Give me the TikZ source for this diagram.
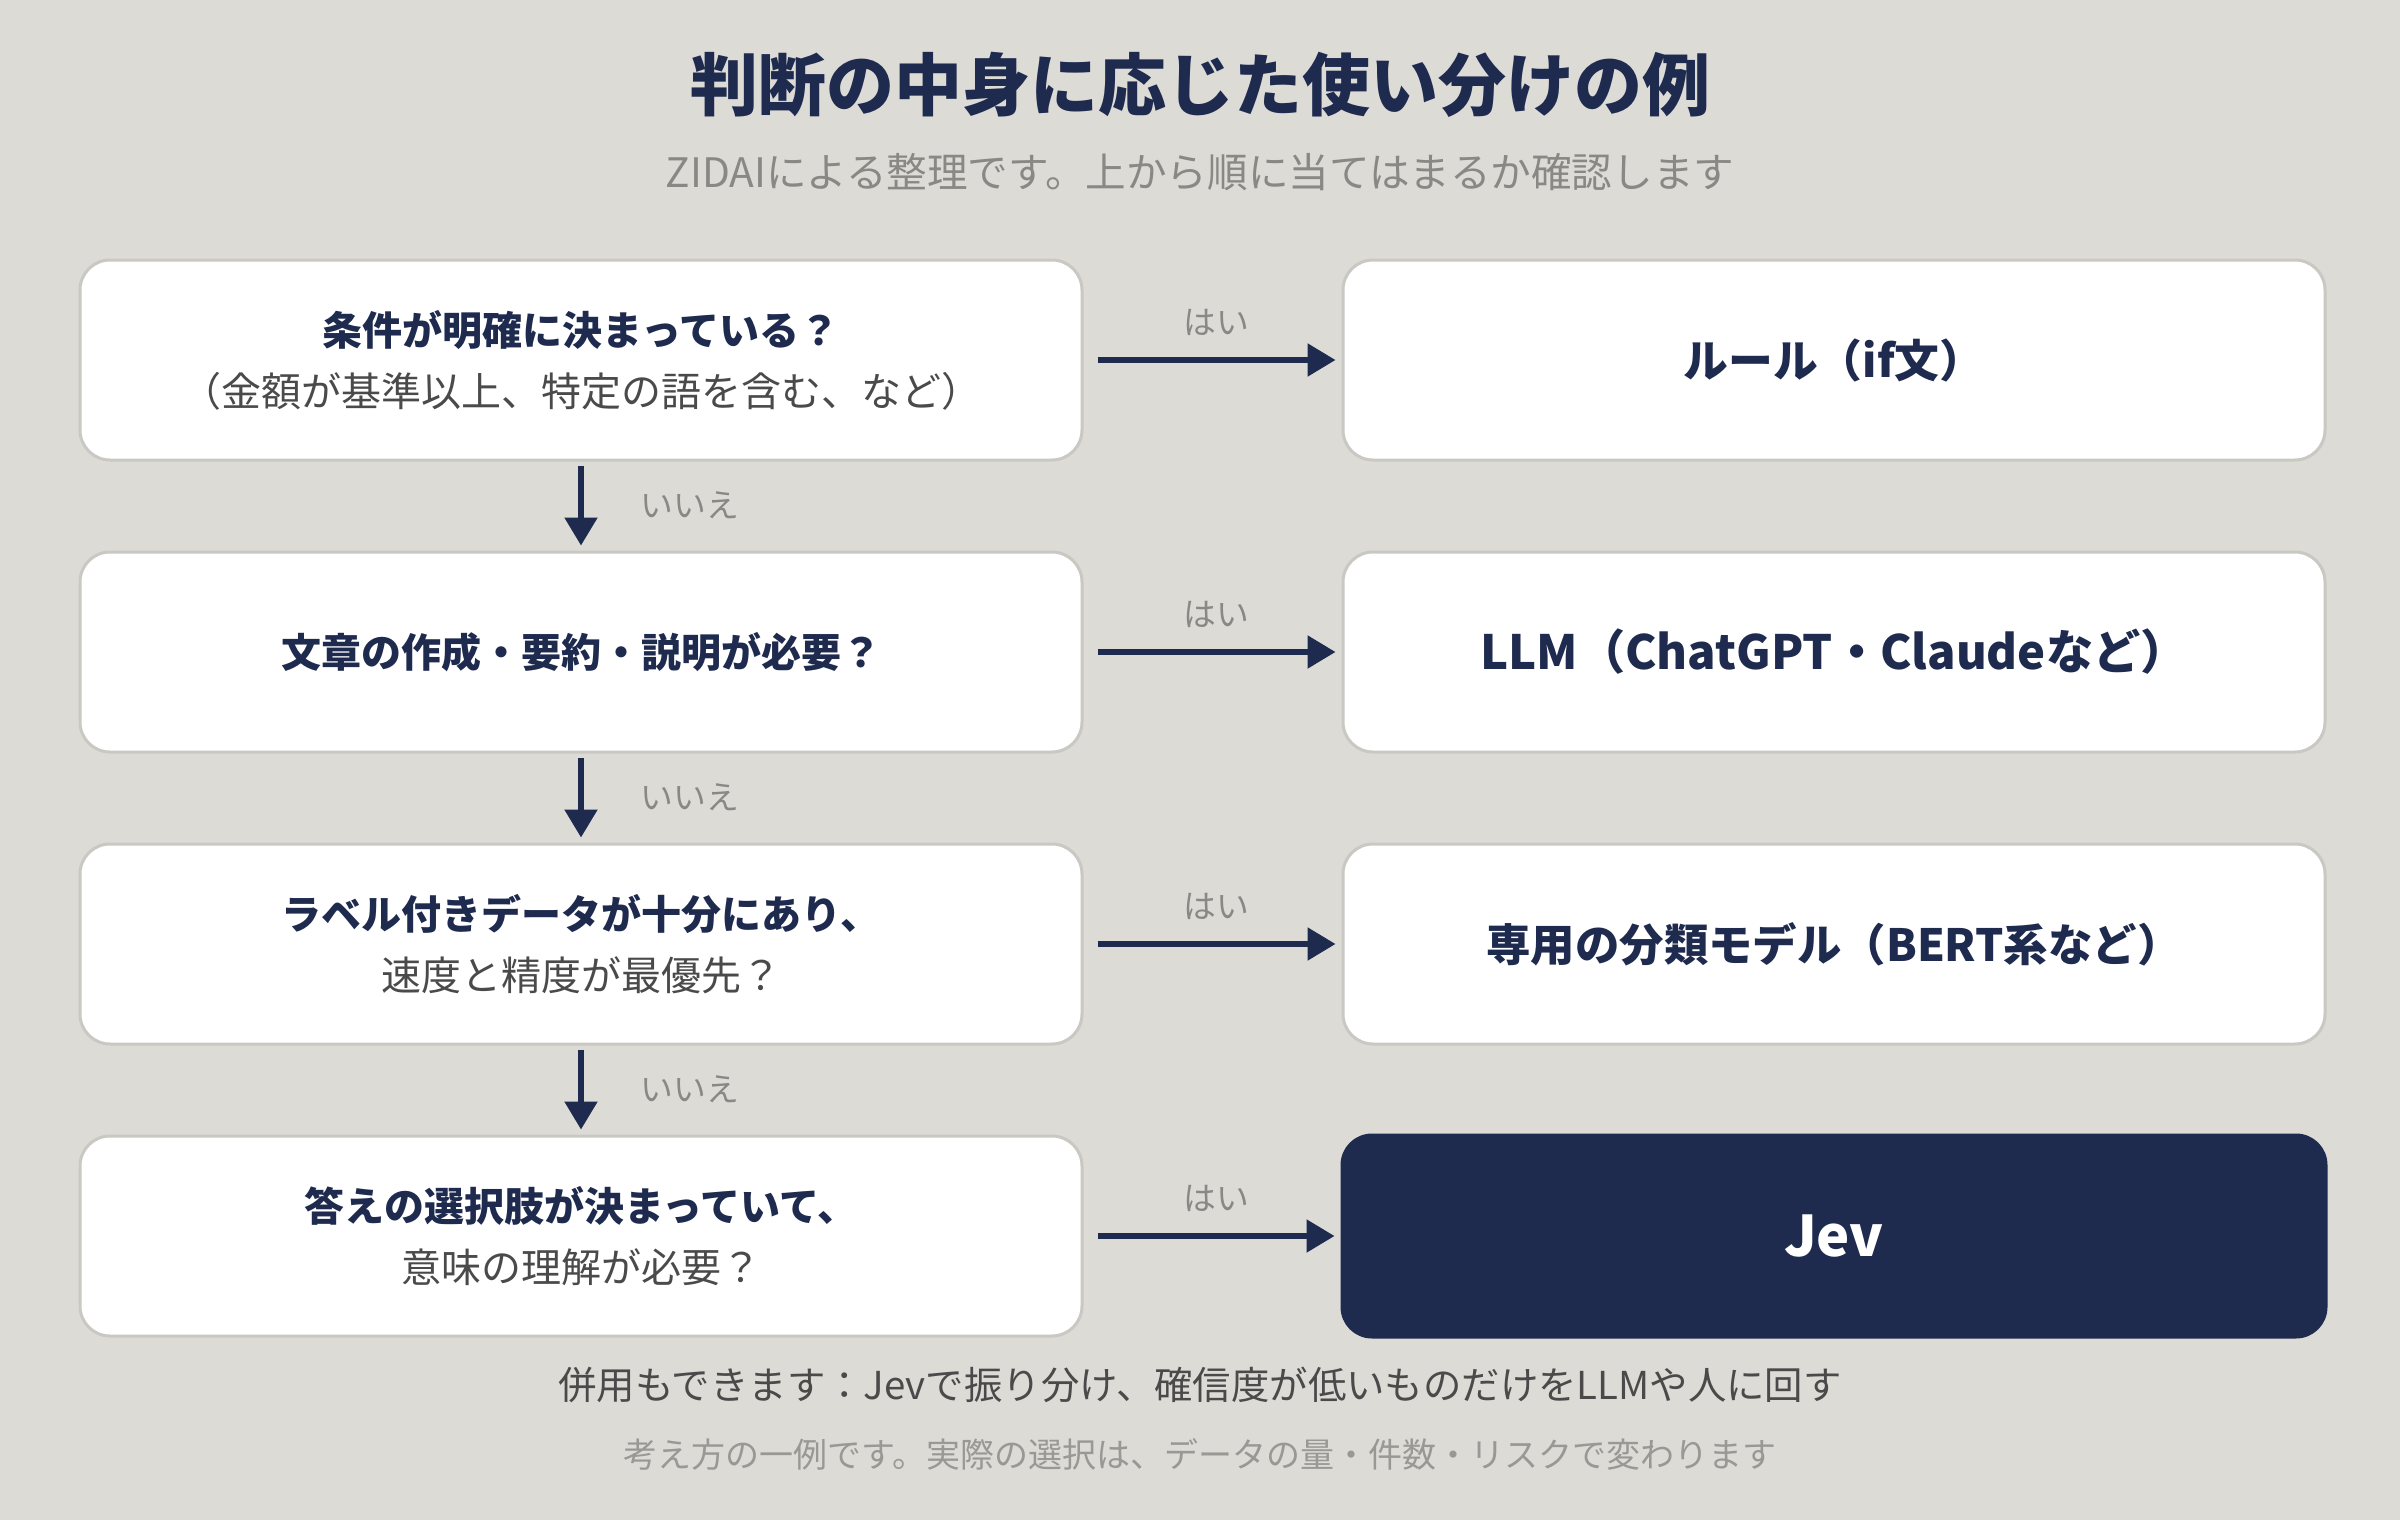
\documentclass[tikz,border=0pt]{standalone}
\usepackage{fontspec}
\setmainfont{Noto Sans CJK JP}
\usetikzlibrary{arrows.meta}
\definecolor{bg}{HTML}{DCDBD6}
\definecolor{navy}{HTML}{1E2A4E}
\definecolor{bord}{HTML}{C9C8C2}
\definecolor{lbl}{HTML}{8A8884}
\definecolor{dtext}{HTML}{4A4A4A}
\definecolor{ltext}{HTML}{9A9894}
\begin{document}
\begin{tikzpicture}[x=0.5pt,y=-0.5pt,
  qbox/.style={draw=bord, line width=1.5pt, fill=white, rounded corners=15pt,
    minimum width=501pt, minimum height=100pt, align=center, inner sep=0pt,
    font=\fontsize{20pt}{30.5pt}\selectfont},
  abox/.style={draw=bord, line width=1.5pt, fill=white, rounded corners=15pt,
    minimum width=491pt, minimum height=100pt, align=center, inner sep=0pt,
    font=\fontsize{23.6pt}{28pt}\selectfont\bfseries, text=navy},
  jbox/.style={abox, draw=navy, fill=navy, text=white,
    minimum width=492pt, minimum height=101pt, font=\fontsize{28pt}{34pt}\selectfont\bfseries},
  arr/.style={draw=navy, line width=2.7pt, -{Triangle[length=14pt,width=16pt]}},
  yes/.style={text=lbl, font=\fontsize{16.4pt}{19pt}\selectfont, inner sep=0pt},
  no/.style={yes, anchor=west},
]
\fill[bg] (0,0) rectangle (2400,1520);

\node[text=navy, font=\fontsize{34pt}{40pt}\selectfont\bfseries] (title) at (1200,85) {判断の中身に応じた使い分けの例};
\node[text=lbl, font=\fontsize{20.3pt}{24pt}\selectfont] (sub) at (1200,172) {ZIDAIによる整理です。上から順に当てはまるか確認します};

\node[qbox] (q1) at (581,360) {{\bfseries\color{navy}条件が明確に決まっている？}\\{\color{dtext}（金額が基準以上、特定の語を含む、など）}};
\node[qbox] (q2) at (581,652) {{\bfseries\color{navy}文章の作成・要約・説明が必要？}};
\node[qbox] (q3) at (581,944) {{\bfseries\color{navy}ラベル付きデータが十分にあり、}\\{\color{dtext}速度と精度が最優先？}};
\node[qbox] (q4) at (581,1236) {{\bfseries\color{navy}答えの選択肢が決まっていて、}\\{\color{dtext}意味の理解が必要？}};

\node[abox, font=\fontsize{22.4pt}{28pt}\selectfont\bfseries] (a1) at (1834,360) {ルール（if文）};
\node[abox] (a2) at (1834,652) {LLM（ChatGPT・Claudeなど）};
\node[abox, font=\fontsize{22.2pt}{28pt}\selectfont\bfseries] (a3) at (1834,944) {専用の分類モデル（BERT系など）};
\node[jbox] (a4) at (1834,1236) {Jev};

\foreach \i in {1,2,3,4}{
  \draw[arr, shorten <=7pt, shorten >=3pt] (q\i) -- (a\i);
}
\foreach \i/\j in {1/2,2/3,3/4}{
  \draw[arr, shorten <=2pt, shorten >=2.5pt] (q\i) -- (q\j);
}

\node[yes] (y1) at (1216,322) {はい};
\node[yes] (y2) at (1216,614) {はい};
\node[yes] (y3) at (1216,906) {はい};
\node[yes] (y4) at (1216,1198) {はい};

\node[no] (n1) at (640,505) {いいえ};
\node[no] (n2) at (640,797) {いいえ};
\node[no] (n3) at (640,1089) {いいえ};

\node[text=dtext, font=\fontsize{19.2pt}{23pt}\selectfont] (f1) at (1200,1385) {併用もできます：Jevで振り分け、確信度が低いものだけをLLMや人に回す};
\node[text=ltext, font=\fontsize{17pt}{20pt}\selectfont] (f2) at (1200,1454) {考え方の一例です。実際の選択は、データの量・件数・リスクで変わります};
\end{tikzpicture}
\end{document}
